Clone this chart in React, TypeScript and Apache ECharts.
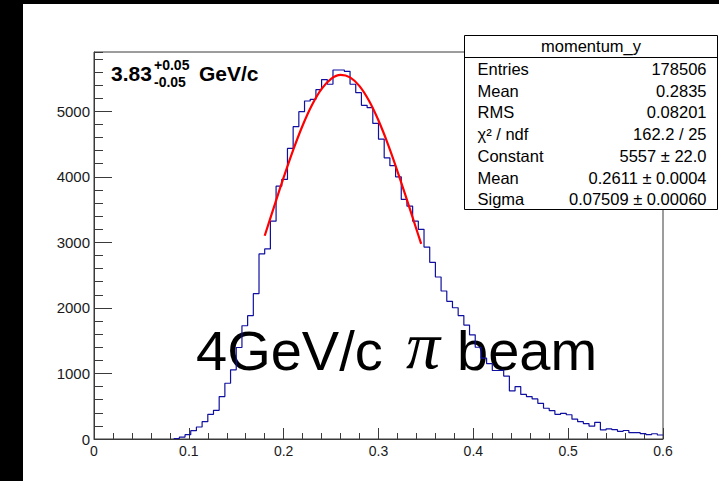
import React, { useEffect, useRef } from "react";
import * as echarts from "echarts";

// ---- data ----
const HIST_MIN = 0;
const BIN_WIDTH = 0.006; // 100 bins over 0 .. 0.6
const binCounts = [
  0, 0, 0, 0, 0, 0, 0, 0, 0, 0,
  0, 0, 0, 0, 8, 30, 66, 127, 183, 265,
  377, 438, 647, 851, 1055, 1396, 1728, 1881, 2217, 2824,
  2900, 3323, 3858, 3960, 4434, 4766, 4995, 5157, 5183, 5330,
  5485, 5413, 5630, 5630, 5610, 5413, 5285, 5092, 5056, 4815,
  4575, 4291, 4170, 4000, 3655, 3552, 3323, 3200, 2928, 2696,
  2472, 2258, 2100, 2003, 1883, 1738, 1590, 1400, 1233, 1150,
  1045, 1050, 960, 734, 800, 680, 647, 612, 545, 469,
  433, 377, 392, 370, 303, 265, 235, 196, 255, 138,
  155, 143, 117, 130, 97, 97, 82, 66, 80, 61,
];

const fitX = [0.18, 0.19, 0.2, 0.21, 0.22, 0.23, 0.24, 0.25, 0.26, 0.27, 0.28, 0.29, 0.3, 0.31, 0.32, 0.33, 0.34, 0.345];
const fitY = [3101, 3549, 3991, 4408, 4784, 5100, 5342, 5496, 5556, 5518, 5384, 5160, 4859, 4496, 4085, 3648, 3200, 2977];

const xTickLabels = ["0", "0.1", "0.2", "0.3", "0.4", "0.5", "0.6"];
const yTickLabels = ["0", "1000", "2000", "3000", "4000", "5000"];
const X_MAX = 0.6;
const Y_MAX = 5905;

const statsTitle = "momentum_y";
const statsNames = ["Entries", "Mean", "RMS", "χ² / ndf", "Constant", "Mean", "Sigma"];
const statsValues = ["178506", "0.2835", "0.08201", "162.2 / 25", "5557 ± 22.0", "0.2611 ± 0.0004", "0.07509 ± 0.00060"];

const FONT = "'Liberation Sans', Arial, Helvetica, sans-serif";

export default function App() {
  const ref = useRef<HTMLDivElement>(null);

  useEffect(() => {
    if (!ref.current) return;
    const chart = echarts.init(ref.current, null, { renderer: "svg" });

    // histogram outline built from bins
    let first = binCounts.findIndex((c) => c > 0);
    if (first < 0) first = 0;
    const histPts: number[][] = [];
    for (let i = first; i < binCounts.length; i++) {
      const lo = +(HIST_MIN + i * BIN_WIDTH).toFixed(6);
      const hi = +(HIST_MIN + (i + 1) * BIN_WIDTH).toFixed(6);
      histPts.push([lo, binCounts[i]]);
      histPts.push([hi, binCounts[i]]);
    }
    const fitPts = fitX.map((x, i) => [x, fitY[i]]);

    const axisColor = "#3a3a3a";
    const rowY0 = 69;
    const rowStep = 21.7;

    const statsEls: any[] = [
      {
        type: "rect",
        z: 50,
        shape: { x: 464.5, y: 35.5, width: 253, height: 174 },
        style: { fill: "#fff", stroke: "#000", lineWidth: 1 },
      },
      {
        type: "line",
        z: 51,
        shape: { x1: 464.5, y1: 57.5, x2: 717.5, y2: 57.5 },
        style: { stroke: "#000", lineWidth: 1 },
      },
      {
        type: "text",
        z: 52,
        x: 591,
        y: 46,
        style: { text: statsTitle, fill: "#000", fontSize: 16.5, fontFamily: FONT, align: "center", verticalAlign: "middle" },
      },
    ];
    statsNames.forEach((n, i) => {
      statsEls.push({
        type: "text",
        z: 52,
        x: 477.5,
        y: rowY0 + i * rowStep,
        style: { text: n, fill: "#000", fontSize: 16.5, fontFamily: FONT, align: "left", verticalAlign: "middle" },
      });
      statsEls.push({
        type: "text",
        z: 52,
        x: 706.5,
        y: rowY0 + i * rowStep,
        style: { text: statsValues[i], fill: "#000", fontSize: 16.5, fontFamily: FONT, align: "right", verticalAlign: "middle" },
      });
    });

    const option: any = {
      animation: false,
      backgroundColor: "#fff",
      grid: {
        left: 94,
        top: 52,
        width: 569,
        height: 387,
        show: true,
        borderColor: axisColor,
        borderWidth: 1,
        backgroundColor: "transparent",
      },
      xAxis: [
        {
          type: "value",
          min: 0,
          max: X_MAX,
          interval: 0.1,
          position: "bottom",
          axisLine: { show: true, onZero: false, lineStyle: { color: axisColor, width: 1 } },
          axisTick: { show: true, inside: true, length: 11, lineStyle: { color: axisColor } },
          minorTick: { show: true, splitNumber: 5, length: 6, lineStyle: { color: axisColor } },
          splitLine: { show: false },
          minorSplitLine: { show: false },
          axisLabel: {
            fontSize: 14,
            fontFamily: FONT,
            color: "#1a1a1a",
            margin: 5,
            formatter: (v: number) => {
              const idx = Math.round(v / 0.1);
              return xTickLabels[idx] ?? "";
            },
          },
        },
      ],
      yAxis: [
        {
          type: "value",
          min: 0,
          max: Y_MAX,
          interval: 1000,
          position: "left",
          axisLine: { show: true, onZero: false, lineStyle: { color: axisColor, width: 1 } },
          axisTick: { show: true, inside: true, length: 18, lineStyle: { color: axisColor } },
          splitLine: { show: false },
          axisLabel: {
            fontSize: 15,
            fontFamily: FONT,
            color: "#1a1a1a",
            margin: 4,
            showMaxLabel: false,
            formatter: (v: number) => (v % 1000 === 0 ? yTickLabels[v / 1000] ?? "" : ""),
          },
        },
        {
          type: "value",
          min: 0,
          max: Y_MAX,
          interval: 200,
          position: "left",
          axisLine: { show: false },
          axisTick: { show: true, inside: true, length: 9, lineStyle: { color: axisColor } },
          splitLine: { show: false },
          axisLabel: { show: false },
        },
      ],
      graphic: [
        // big annotation (behind the histogram)
        {
          type: "text",
          z: 1,
          x: 196,
          y: 350,
          style: { text: "4GeV/c", fill: "#000", fontSize: 56, fontFamily: FONT, align: "left", verticalAlign: "middle" },
        },
        {
          type: "text",
          z: 1,
          x: 406,
          y: 345,
          style: { text: "π", fill: "#000", fontSize: 68, fontFamily: "'Liberation Serif', 'Times New Roman', serif", fontStyle: "italic", align: "left", verticalAlign: "middle" },
        },
        {
          type: "text",
          z: 1,
          x: 457,
          y: 350,
          style: { text: "beam", fill: "#000", fontSize: 56, fontFamily: FONT, align: "left", verticalAlign: "middle" },
        },
        // momentum label with asymmetric errors
        {
          type: "text",
          z: 20,
          x: 111,
          y: 73.5,
          style: { text: "3.83", fill: "#000", fontSize: 21, fontWeight: "bold", fontFamily: FONT, align: "left", verticalAlign: "middle" },
        },
        {
          type: "text",
          z: 20,
          x: 154,
          y: 65,
          style: { text: "+0.05", fill: "#000", fontSize: 14, fontWeight: "bold", fontFamily: FONT, align: "left", verticalAlign: "middle" },
        },
        {
          type: "text",
          z: 20,
          x: 154,
          y: 82,
          style: { text: "-0.05", fill: "#000", fontSize: 14, fontWeight: "bold", fontFamily: FONT, align: "left", verticalAlign: "middle" },
        },
        {
          type: "text",
          z: 20,
          x: 199,
          y: 73.5,
          style: { text: "GeV/c", fill: "#000", fontSize: 21, fontWeight: "bold", fontFamily: FONT, align: "left", verticalAlign: "middle" },
        },
        ...statsEls,
        // black frame of the screenshot
        { type: "rect", z: 100, shape: { x: 0, y: 0, width: 23, height: 481 }, style: { fill: "#000" } },
        { type: "rect", z: 100, shape: { x: 0, y: 0, width: 719, height: 4 }, style: { fill: "#000" } },
      ],
      series: [
        {
          type: "line",
          name: "momentum_y",
          data: histPts,
          xAxisIndex: 0,
          yAxisIndex: 0,
          symbol: "none",
          z: 5,
          lineStyle: { color: "#1010a0", width: 1.2 },
        },
        {
          type: "line",
          name: "fit",
          data: fitPts,
          xAxisIndex: 0,
          yAxisIndex: 0,
          symbol: "none",
          smooth: 0.4,
          z: 6,
          lineStyle: { color: "#ff0000", width: 2.2 },
        },
      ],
    };

    chart.setOption(option);
    return () => chart.dispose();
  }, []);

  return (
    <div
      ref={ref}
      style={{ position: "absolute", left: 0, top: 0, width: 719, height: 481, background: "#fff" }}
    />
  );
}
